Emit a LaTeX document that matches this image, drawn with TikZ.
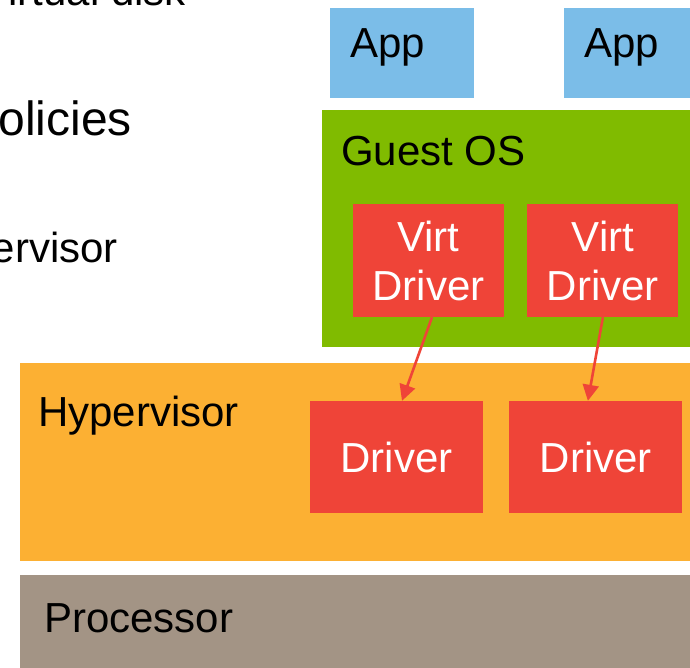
\documentclass[tikz,border=0pt]{standalone}
\usepackage{fontspec}
\setmainfont{Liberation Sans}
\usetikzlibrary{arrows.meta, positioning}
\definecolor{appBlue}{RGB}{123,189,232}
\definecolor{guestGreen}{RGB}{128,187,0}
\definecolor{hypOrange}{RGB}{252,176,51}
\definecolor{drvRed}{RGB}{239,68,56}
\definecolor{procGray}{RGB}{163,148,133}
\newcommand{\bigText}{\fontsize{42}{49}\selectfont}
\newcommand{\sideText}{\fontsize{48}{56}\selectfont}
\tikzstyle{layerBox} = [shape=rectangle, inner sep=0pt, anchor=north west]
\tikzstyle{appBox} = [layerBox, fill=appBlue, minimum width=144, minimum height=90]
\tikzstyle{driverBox} = [shape=rectangle, fill=drvRed, text=white, align=center,
	inner sep=0pt, font=\bigText]
\tikzstyle{VirtBox} = [driverBox, minimum width=151, minimum height=113]
\tikzstyle{DrvBox} = [driverBox, minimum width=173, minimum height=112]
\tikzstyle{layerText} = [anchor=base west, inner sep=0pt, text=black, font=\bigText]
\tikzstyle{sideText} = [anchor=base east, inner sep=0pt, text=black, font=\bigText]
\tikzstyle{normalArrow} = [line width=2.6pt, -{Triangle[length=16pt,width=16pt]}, draw=drvRed, fill=drvRed]

\begin{document}
\begin{tikzpicture}[x=1pt, y=-1pt]
  \clip (0,0) rectangle (690,667);
  % cut-off words on the left
  \node (DISK) [sideText] at (186,5) {Virtual disk};
  \node (POLI) [sideText, font=\sideText] at (132,135) {Policies};
  \node (HYPL) [sideText] at (118,262) {Hypervisor};

  % layers
  \node (APPA) [appBox] at (330,8) {};
  \node (APPB) [appBox] at (564,8) {};
  \node (GUEST) [layerBox, fill=guestGreen, minimum width=400, minimum height=237] at (322,110) {};
  \node (HYPER) [layerBox, fill=hypOrange, minimum width=700, minimum height=198] at (20,363) {};
  \node (PROC) [layerBox, fill=procGray, minimum width=700, minimum height=120] at (20,575) {};

  \node (APPAT) [layerText] at (350,57) {App};
  \node (APPBT) [layerText] at (584,57) {App};
  \node (GUESTT) [layerText] at (341,165) {Guest OS};
  \node (HYPERT) [layerText] at (38,426) {Hypervisor};
  \node (PROCT) [layerText] at (44,632) {Processor};

  % drivers
  \node (VIRTA) [VirtBox] at (428.5,260.5) {Virt\\Driver};
  \node (VIRTB) [VirtBox, right=23pt of VIRTA] {Virt\\Driver};
  \node (DRVA) [DrvBox] at (396.5,457) {Driver};
  \node (DRVB) [DrvBox, right=26pt of DRVA] {Driver};

  \draw [normalArrow] ([xshift=3.5pt]VIRTA.south) -- ([xshift=5.5pt]DRVA.north);
  \draw [normalArrow] (VIRTB.south) -- ([xshift=-8pt]DRVB.north);
\end{tikzpicture}
\end{document}
